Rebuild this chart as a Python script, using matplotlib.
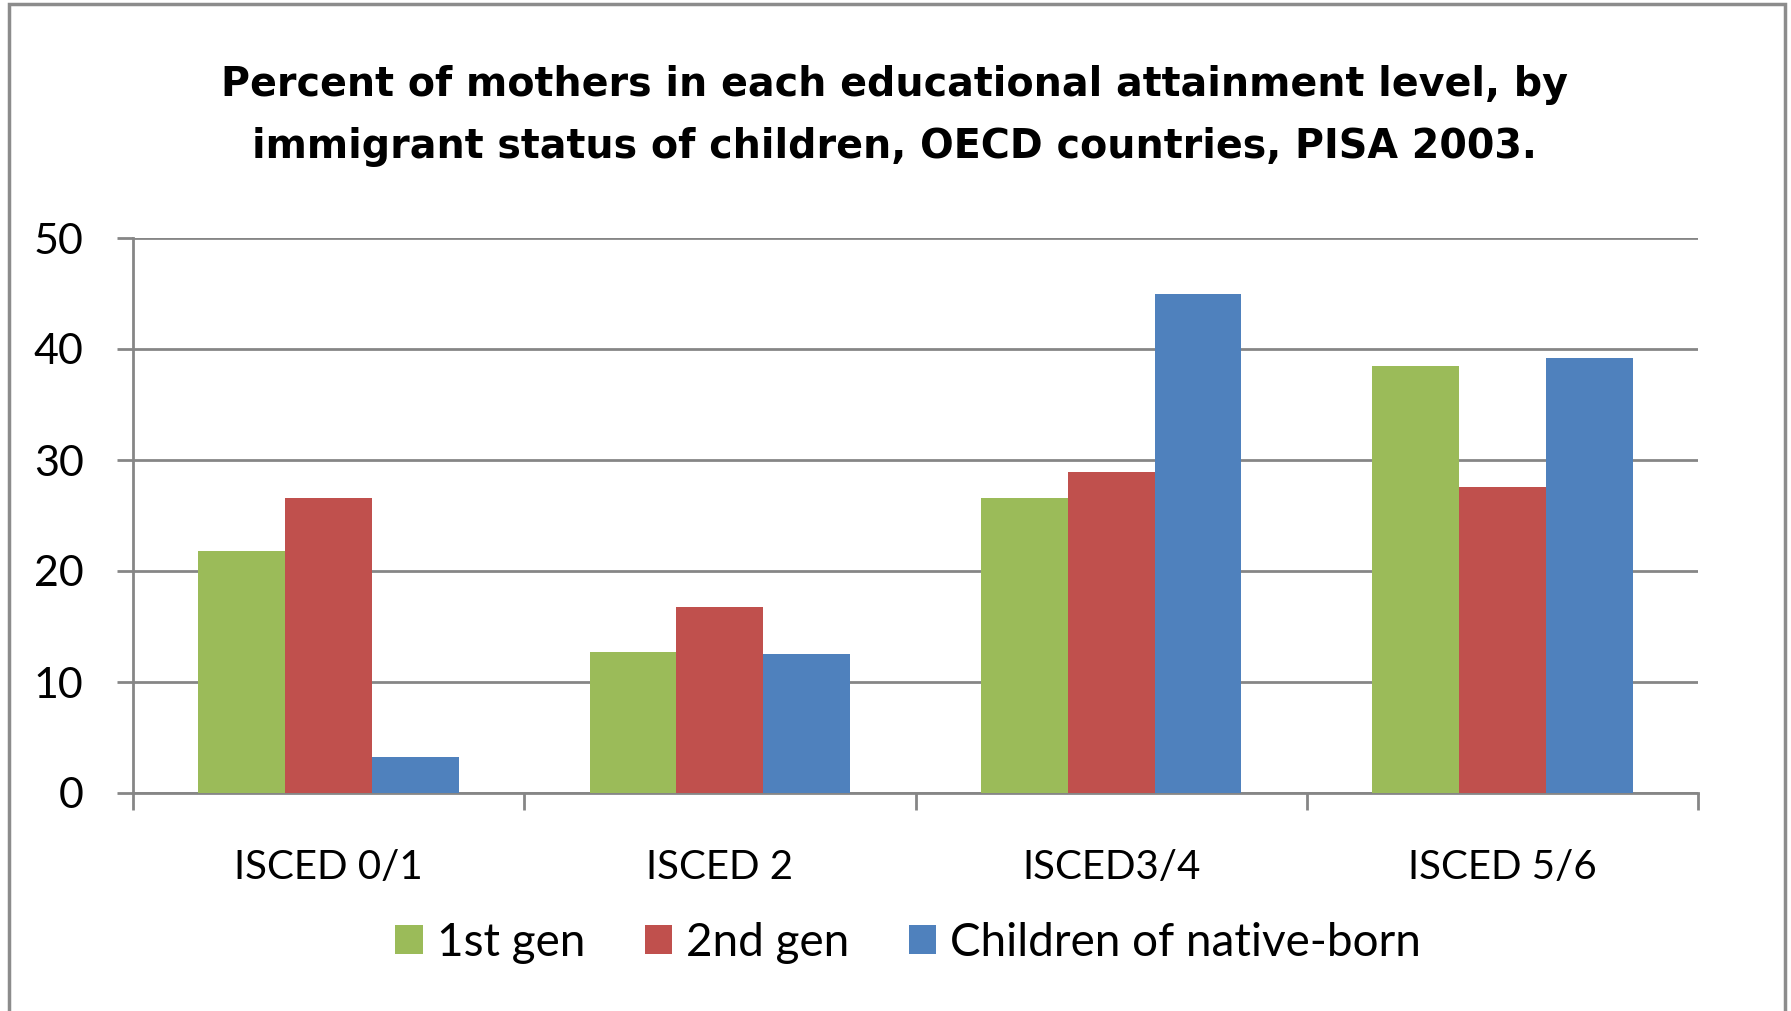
import matplotlib
matplotlib.use("Agg")
import matplotlib.pyplot as plt
from matplotlib.patches import Rectangle
import numpy as np

categories = ["ISCED 0/1", "ISCED 2", "ISCED3/4", "ISCED 5/6"]
series_names = ["1st gen", "2nd gen", "Children of native-born"]
first_gen = [21.8, 12.7, 26.6, 38.5]
second_gen = [26.6, 16.8, 28.9, 27.6]
native_born = [3.2, 12.5, 45.0, 39.2]
y_ticks = [0, 10, 20, 30, 40, 50]
title = ("Percent of mothers in each educational attainment level, by\n"
         "immigrant status of children, OECD countries, PISA 2003.")

colors = ["#9BBB59", "#C0504D", "#4F81BD"]
W, H, DPI = 1791, 1011, 100
fig = plt.figure(figsize=(W / DPI, H / DPI), dpi=DPI)
fig.patch.set_facecolor("white")

# outer frame
fig.add_artist(Rectangle((9 / W, -0.05), (1785 - 9) / W, 1.05 - 4 / H,
                         transform=fig.transFigure, fill=False,
                         edgecolor="#8c8c8c", linewidth=2.5))

ax = fig.add_axes([133 / W, 1 - 793 / H, (1698 - 133) / W, (793 - 238) / H])
x = np.arange(len(categories))
bw = 0.222
for i, (vals, name) in enumerate(zip([first_gen, second_gen, native_born], series_names)):
    ax.bar(x + (i - 1) * bw, vals, width=bw, color=colors[i], label=name, zorder=3)

ax.set_xlim(-0.5, len(categories) - 0.5)
ax.set_ylim(0, 50)
ax.set_yticks(y_ticks)
ax.set_yticklabels([str(v) for v in y_ticks], family="Lato", fontsize=31)
ax.yaxis.grid(True, color="#868686", linewidth=2, zorder=0)
ax.tick_params(axis="y", length=11.5, width=2, color="#868686", pad=24)

ax.set_xticks(np.arange(len(categories) + 1) - 0.5)
ax.set_xticklabels([])
ax.set_xticks(x, minor=True)
ax.set_xticklabels(categories, minor=True, family="Lato", fontsize=29)
ax.tick_params(axis="x", which="major", length=12, width=2, color="#868686",
               direction="out")
ax.tick_params(axis="x", which="minor", length=0, pad=40)

for s in ["top", "right"]:
    ax.spines[s].set_visible(False)
for s in ["left", "bottom"]:
    ax.spines[s].set_color("#868686")
    ax.spines[s].set_linewidth(2)

fig.text(0.4995, 1 - 116 / H, title, ha="center", va="center",
         family="DejaVu Sans", fontweight="bold", fontsize=28.5,
         linespacing=1.72)

handles, labels = ax.get_legend_handles_labels()
fig.legend(handles, labels, loc="center", bbox_to_anchor=(0.507, 1 - 943 / H),
           ncol=3, frameon=False, prop={"family": "Lato", "size": 33},
           handlelength=0.6, handleheight=0.6, handletextpad=0.3,
           columnspacing=1.3)

fig.savefig("out.png", dpi=DPI)
